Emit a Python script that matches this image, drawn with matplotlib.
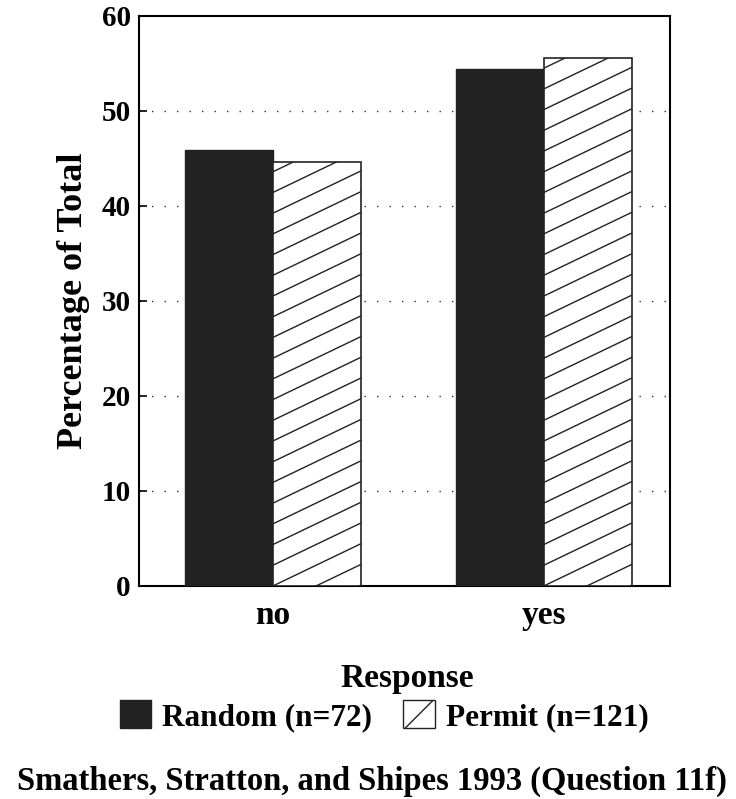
import numpy as np
import matplotlib.pyplot as plt
from matplotlib.patches import Patch
from matplotlib.collections import LineCollection

# дані
categories = ["no", "yes"]
random_vals = [45.9, 54.4]
permit_vals = [44.6, 55.6]
yticks = [0, 10, 20, 30, 40, 50, 60]

plt.rcParams['font.family'] = ['Liberation Serif', 'DejaVu Serif']
plt.rcParams['font.weight'] = 'bold'

fig = plt.figure(figsize=(7.36, 7.99), dpi=100)
ax = fig.add_axes([0.189, 0.2666, 0.721, 0.7134])

x = np.arange(len(categories))
w = 0.325
b1 = ax.bar(x - w / 2, random_vals, w, color='#222222', edgecolor='#222222', zorder=3)
b2 = ax.bar(x + w / 2, permit_vals, w, color='white', edgecolor='#222222', lw=1.2, zorder=3)

ax.set_xlim(-0.494, 1.465)
ax.set_ylim(0, 60)

# власне штрихування (похилі лінії)
slope = 13.7      # y одиниць на x одиницю
step = 2.18
for bar in b2:
    x0, x1 = bar.get_x(), bar.get_x() + bar.get_width()
    h = bar.get_height()
    segs = []
    for k in range(-10, int(h / step) + 2):
        y0 = k * step
        segs.append([(x0, y0), (x1, y0 + slope * (x1 - x0))])
    lc = LineCollection(segs, colors='#222222', linewidths=1.0, zorder=4)
    ax.add_collection(lc)
    lc.set_clip_path(bar.get_path(), bar.get_transform())

# сітка
for yv in yticks[1:-1]:
    ax.axhline(yv, color='#333333', lw=1.0, ls=(0, (1, 8)), zorder=1)

ax.set_yticks(yticks)
ax.set_xticks(x)
ax.set_xticklabels(categories, fontsize=24, fontweight='bold')
ax.tick_params(axis='x', length=0, pad=10)
ax.tick_params(axis='y', direction='in', length=6, width=1.2, labelsize=21, pad=6)
for s in ax.spines.values():
    s.set_linewidth(1.5)
ax.set_ylabel("Percentage of Total", fontsize=26, fontweight='bold', labelpad=8)

fig.text(0.554, 0.140, "Response", ha='center', va='baseline', fontsize=24, fontweight='bold')

handles = [Patch(facecolor='#222222', edgecolor='#222222'),
           Patch(facecolor='white', edgecolor='#222222', hatch='/')]
fig.legend(handles, ["Random (n=72)", "Permit (n=121)"], loc='center',
           bbox_to_anchor=(0.522, 0.104), ncol=2, frameon=False,
           prop={'size': 22.5, 'weight': 'bold'}, handlelength=1.0, handleheight=1.0,
           handletextpad=0.35, columnspacing=1.0, borderpad=0.1)

fig.text(0.505, 0.011, "Smathers, Stratton, and Shipes 1993 (Question 11f)",
         ha='center', va='baseline', fontsize=23.5, fontweight='bold')

fig.savefig("out.png", dpi=100)
